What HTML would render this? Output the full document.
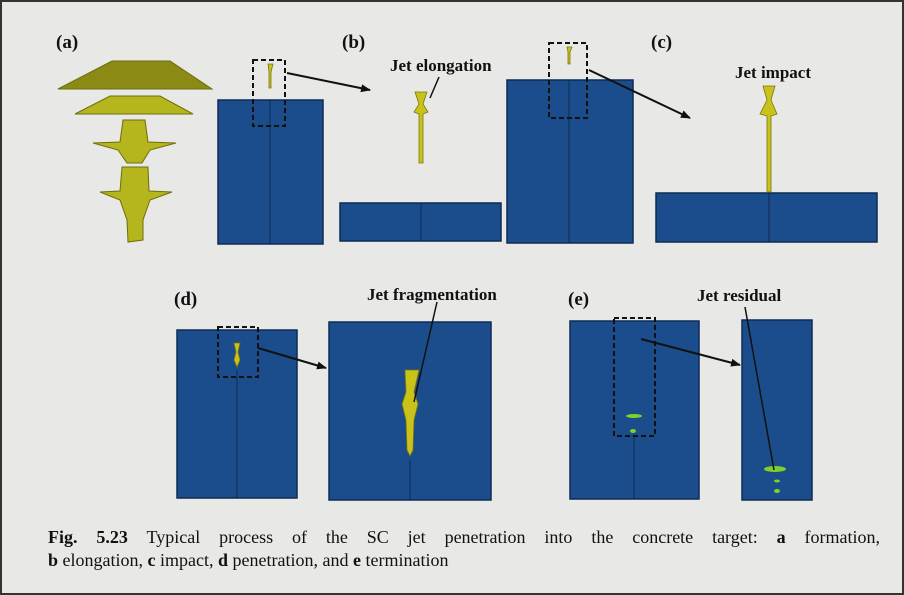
<!DOCTYPE html>
<html><head><meta charset="utf-8"><style>
html,body{margin:0;padding:0;background:#e8e8e7;}
svg{display:block}
.cap{position:absolute;left:48px;width:832px;font-family:"Liberation Serif",serif;font-size:18px;color:#111;white-space:nowrap}
.j{text-align:justify;text-align-last:justify}
</style></head><body>
<div style="position:relative;width:904px;height:595px">
<svg width="904" height="595" viewBox="0 0 904 595" xmlns="http://www.w3.org/2000/svg">
<defs>
<marker id="ah" markerWidth="10" markerHeight="8" refX="9" refY="4" orient="auto" markerUnits="userSpaceOnUse"><path d="M0,0 L10,4 L0,8 Z" fill="#111"/></marker>
</defs>
<rect x="0" y="0" width="904" height="595" fill="#e8e8e7"/>
<rect x="1" y="1" width="902" height="593" fill="none" stroke="#333" stroke-width="2"/>
<g font-family="Liberation Serif, serif" font-weight="bold" fill="#111">
<text x="56" y="48" font-size="19">(a)</text>
<text x="342" y="48" font-size="19">(b)</text>
<text x="651" y="48" font-size="19">(c)</text>
<text x="174" y="305" font-size="19">(d)</text>
<text x="568" y="305" font-size="19">(e)</text>
<text x="390" y="71" font-size="17">Jet elongation</text>
<text x="735" y="78" font-size="17">Jet impact</text>
<text x="367" y="300" font-size="17">Jet fragmentation</text>
<text x="697" y="301" font-size="17">Jet residual</text>
</g>
<g fill="#b5b51e" stroke="#6e6e0c" stroke-width="1">
<path d="M58,89 L112,61 L170,61 L212,89 Z" fill="#8a8a14"/>
<path d="M75,114 L110,96 L160,96 L193,114 Z"/>
<path d="M93,143 L120,142 L123,120 L145,120 L148,142 L176,143 L150,150 L142,163 L127,163 L118,150 Z"/>
<path d="M100,192 L120,191 L122,167 L148,167 L149,191 L172,192 L150,200 L143,220 L143,240 L128,242 L127,220 L120,200 Z"/>
</g>
<g fill="#1b4d8d" stroke="#0d2b55" stroke-width="1.5">
<rect x="218" y="100" width="105" height="144"/>
<rect x="340" y="203" width="161" height="38"/>
<rect x="507" y="80" width="126" height="163"/>
<rect x="656" y="193" width="221" height="49"/>
<rect x="177" y="330" width="120" height="168"/>
<rect x="329" y="322" width="162" height="178"/>
<rect x="570" y="321" width="129" height="178"/>
<rect x="742" y="320" width="70" height="180"/>
</g>
<g stroke="#0d2b55" stroke-width="1">
<line x1="270" y1="100" x2="270" y2="244"/>
<line x1="421" y1="203" x2="421" y2="241"/>
<line x1="569" y1="80" x2="569" y2="243"/>
<line x1="769" y1="193" x2="769" y2="242"/>
<line x1="237" y1="370" x2="237" y2="498"/>
<line x1="410" y1="460" x2="410" y2="500"/>
<line x1="634" y1="436" x2="634" y2="499"/>
</g>
<g fill="#c8c21a" stroke="#7a760c" stroke-width="0.8">
<path d="M268,64 L273,64 L271,72 L271,88 L269,88 L269,72 Z"/>
<path d="M415,92 L427,92 L423,104 L428,112 L423,114 L423,163 L419,163 L419,114 L414,112 L419,104 Z"/>
<path d="M567,47 L572,47 L570,52 L570,64 L568,64 L568,52 Z"/>
<path d="M763,86 L775,86 L771,100 L777,114 L771,116 L771,192 L767,192 L767,116 L760,114 L767,100 Z"/>
<path d="M234,343 L240,343 L238,352 L240,360 L237,367 L234,360 L236,352 Z"/>
<path d="M405,370 L419,370 L414,392 L418,404 L414,420 L413,450 L410,456 L407,450 L406,420 L402,404 L406,392 Z"/>
</g>
<g fill="#7fd02a">
<ellipse cx="634" cy="416" rx="8" ry="2"/><ellipse cx="633" cy="431" rx="3" ry="2"/>
<ellipse cx="775" cy="469" rx="11" ry="3"/><ellipse cx="777" cy="481" rx="3" ry="1.5"/><ellipse cx="777" cy="491" rx="3" ry="2"/>
</g>
<g fill="none" stroke="#111" stroke-width="2" stroke-dasharray="5,3">
<rect x="253" y="60" width="32" height="66"/>
<rect x="549" y="43" width="38" height="75"/>
<rect x="218" y="327" width="40" height="50"/>
<rect x="614" y="318" width="41" height="118"/>
</g>
<g stroke="#111" stroke-width="2" fill="none">
<line x1="287" y1="73" x2="370" y2="90" marker-end="url(#ah)"/>
<line x1="589" y1="70" x2="690" y2="118" marker-end="url(#ah)"/>
<line x1="258" y1="348" x2="326" y2="368" marker-end="url(#ah)"/>
<line x1="641" y1="339" x2="740" y2="365" marker-end="url(#ah)"/>
<line x1="439" y1="77" x2="430" y2="98" stroke-width="1.5"/>
<line x1="437" y1="302" x2="414" y2="402" stroke-width="1.5"/>
<line x1="745" y1="307" x2="774" y2="470" stroke-width="1.5"/>
</g>
</svg>
<div class="cap j" style="top:527px"><b>Fig. 5.23</b> Typical process of the SC jet penetration into the concrete target: <b>a</b> formation,</div>
<div class="cap" style="top:550px"><b>b</b> elongation, <b>c</b> impact, <b>d</b> penetration, and <b>e</b> termination</div>
</div>
</body></html>
